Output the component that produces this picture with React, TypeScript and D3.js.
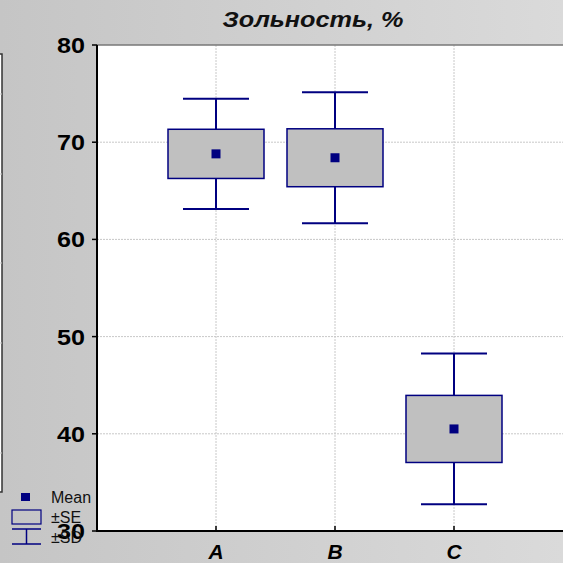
import React from 'react';
import * as d3 from 'd3';

// values
const groups = ['A', 'B', 'C'];
const means = [68.8, 68.4, 40.5];
const se = [2.53, 2.98, 3.45];
const sd = [5.67, 6.73, 7.75];
const yTicks = [30, 40, 50, 60, 70, 80];
const legendItems = ['Mean', '±SE', '±SD'];

const W = 563, H = 563;
const left = 97, top = 45, bottom = 531, right = 573;

export default function App() {
  const y = d3.scaleLinear().domain([30, 80]).range([bottom, top]);
  const x = d3.scalePoint<string>().domain(groups).range([left, right]).padding(1);

  const boxW = 96, capW = 66, navy = '#000080';

  return (
    <div style={{ position: 'fixed', left: 0, top: 0 }}>
      <svg width={W} height={H} style={{ display: 'block', fontFamily: 'Arial, "Liberation Sans", sans-serif' }}>
        <defs>
          <linearGradient id="bg" x1="0%" y1="0%" x2="100%" y2="0%">
            <stop offset="0%" stopColor="#c5c5c5" />
            <stop offset="100%" stopColor="#dadada" />
          </linearGradient>
        </defs>
        <rect width={W} height={H} fill="url(#bg)" />

        {/* clipped neighbour panel at the left edge */}
        <rect x={-10} y={54} width={12} height={438} fill="#fff" stroke="#333" strokeWidth={1.5} />
        {[94, 174, 263, 343, 453].map((v, i) => (
          <line key={i} x1={0} x2={2} y1={v} y2={v} stroke="#ccc" />
        ))}

        {/* plot area */}
        <rect x={left} y={top} width={right - left} height={bottom - top} fill="#fff" />
        {yTicks.slice(1, -1).map(t => (
          <line key={t} x1={left} x2={W} y1={y(t)} y2={y(t)} stroke="#c8c8c8" strokeDasharray="2,1" />
        ))}
        {groups.map(g => (
          <line key={g} x1={x(g)} x2={x(g)} y1={top} y2={bottom} stroke="#c8c8c8" strokeDasharray="2,1" />
        ))}
        <line x1={left} x2={W} y1={top} y2={top} stroke="#777" strokeWidth={1.5} />

        {/* boxes */}
        {groups.map((g, i) => {
          const cx = x(g) as number;
          return (
            <g key={g}>
              <line x1={cx} x2={cx} y1={y(means[i] + sd[i])} y2={y(means[i] - sd[i])} stroke={navy} strokeWidth={2} />
              <line x1={cx - capW / 2} x2={cx + capW / 2} y1={y(means[i] + sd[i])} y2={y(means[i] + sd[i])} stroke={navy} strokeWidth={2} />
              <line x1={cx - capW / 2} x2={cx + capW / 2} y1={y(means[i] - sd[i])} y2={y(means[i] - sd[i])} stroke={navy} strokeWidth={2} />
              <rect x={cx - boxW / 2} y={y(means[i] + se[i])} width={boxW} height={y(means[i] - se[i]) - y(means[i] + se[i])}
                fill="#c0c0c0" stroke={navy} strokeWidth={1.5} />
              <rect x={cx - 4.5} y={y(means[i]) - 4.5} width={9} height={9} fill={navy} />
            </g>
          );
        })}

        {/* axes */}
        <line x1={left} x2={left} y1={top} y2={bottom + 1} stroke="#000" strokeWidth={2} />
        <line x1={left} x2={W} y1={bottom} y2={bottom} stroke="#000" strokeWidth={2} />
        {yTicks.map(t => (
          <g key={t}>
            <line x1={left - 5} x2={left} y1={y(t)} y2={y(t)} stroke="#000" strokeWidth={1.5} />
            <text x={85} y={y(t) + 8} textAnchor="end" fontSize={22} fontWeight="bold" fill="#000"
              textLength={28} lengthAdjust="spacingAndGlyphs">{t}</text>
          </g>
        ))}
        {groups.map(g => (
          <g key={g}>
            <line x1={x(g)} x2={x(g)} y1={bottom - 5} y2={bottom} stroke="#000" strokeWidth={1.5} />
            <text x={x(g)} y={559} textAnchor="middle" fontSize={21} fontWeight="bold" fontStyle="italic" fill="#000">{g}</text>
          </g>
        ))}

        <text x={313} y={27} textAnchor="middle" fontSize={22} fontWeight="bold" fontStyle="italic" fill="#111"
          textLength={181} lengthAdjust="spacingAndGlyphs">Зольность, %</text>

        {/* legend */}
        <g>
          <rect x={21} y={493} width={9} height={8} fill={navy} />
          <rect x={12} y={510} width={29} height={14} fill="none" stroke={navy} strokeWidth={1.2} />
          <line x1={12} x2={41} y1={529} y2={529} stroke={navy} strokeWidth={1.5} />
          <line x1={26.5} x2={26.5} y1={529} y2={544} stroke={navy} strokeWidth={1.5} />
          <line x1={12} x2={41} y1={544} y2={544} stroke={navy} strokeWidth={1.5} />
          {legendItems.map((t, i) => (
            <text key={t} x={51} y={503 + i * 20} fontSize={16} fill="#111">{t}</text>
          ))}
        </g>
        {/* the plot area covers the end of "Mean" as in the reference */}
        <rect x={left} y={480} width={10} height={50} fill="#fff" />
        <line x1={left} x2={left} y1={480} y2={bottom + 1} stroke="#000" strokeWidth={2} />
      </svg>
    </div>
  );
}
